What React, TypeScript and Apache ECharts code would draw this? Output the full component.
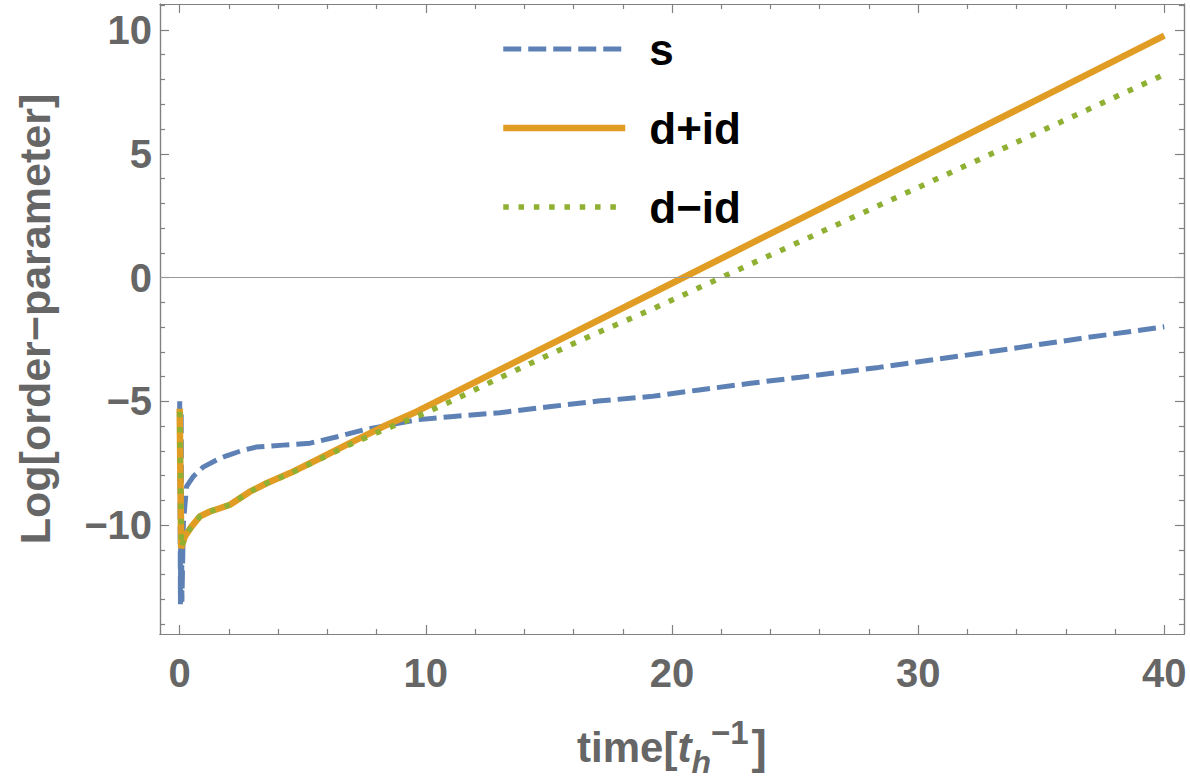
import React, { useEffect, useRef } from "react";
import * as echarts from "echarts";

// ---- data ----
const sTime = [0, 0.03, 0.06, 0.09, 0.15, 0.28, 0.55, 0.95, 1.56, 1.9, 2.5, 3.1, 4.2, 5.3, 6.4, 7.45, 8.5, 9.6, 11, 13, 15, 17, 19.1, 21.1, 23.2, 25.2, 28.4, 32.5, 36.6, 40];
const sLog = [-5.0, -13.2, -5.4, -13.1, -9.9, -8.44, -8.04, -7.66, -7.34, -7.2, -7.0, -6.85, -6.77, -6.69, -6.43, -6.16, -5.96, -5.75, -5.62, -5.46, -5.22, -4.99, -4.81, -4.54, -4.27, -4.03, -3.63, -3.06, -2.46, -1.99];

const dPlusTime = [0, 0.06, 0.21, 0.48, 0.82, 1.23, 1.63, 2.04, 2.85, 3.53, 4.48, 5.56, 6.91, 8.27, 9.62, 15, 20, 25, 30, 35, 40];
const dPlusLog = [-5.3, -10.93, -10.46, -10.06, -9.65, -9.45, -9.32, -9.18, -8.65, -8.31, -7.9, -7.37, -6.69, -6.02, -5.42, -2.73, -0.23, 2.27, 4.77, 7.27, 9.77];

const dMinusTime = [0, 0.07, 0.21, 0.48, 0.82, 1.23, 1.63, 2.04, 2.85, 3.53, 4.48, 5.56, 6.91, 8.27, 9.62, 10.98, 13, 15, 17, 19.1, 22, 25, 30, 35, 40];
const dMinusLog = [-5.42, -10.9, -10.46, -10.06, -9.65, -9.45, -9.32, -9.18, -8.65, -8.31, -7.92, -7.4, -6.75, -6.16, -5.62, -5.02, -4.05, -3.12, -2.22, -1.32, 0.0, 1.36, 3.64, 5.92, 8.2];

const seriesNames = ["s", "d+id", "d\u2212id"];
const seriesColors = ["#5E81B5", "#E19C24", "#8FB032"];
const seriesWidths = [5, 6.5, 5.5];
const xMajorTicks = [0, 10, 20, 30, 40];
const xMinorTicks = [2, 4, 6, 8, 12, 14, 16, 18, 22, 24, 26, 28, 32, 34, 36, 38];
const yMajorTicks = [-10, -5, 0, 5, 10];
const yMinorTicks = [-14, -13, -12, -11, -9, -8, -7, -6, -4, -3, -2, -1, 1, 2, 3, 4, 6, 7, 8, 9, 11];

const X_MIN = -0.8;
const X_MAX = 40.8;
const Y_MIN = -14.4;
const Y_MAX = 11.05;

const FONT = "'Liberation Sans', Arial, Helvetica, sans-serif";
const FRAME = "#808080";
const LABEL = "#666666";

const zip = (xs: number[], ys: number[]) => xs.map((x, i) => [x, ys[i]]);
const fmt = (v: number) => (v < 0 ? "\u2212" + Math.abs(v) : String(v));

export default function App() {
  const ref = useRef<HTMLDivElement>(null);
  useEffect(() => {
    if (!ref.current) return;
    const chart = echarts.init(ref.current, null, { renderer: "svg" });

    const frameAxis = (pos: string, ticks: number[], len: number, labels: boolean, extra: any = {}) => ({
      type: "value",
      position: pos,
      min: pos === "left" || pos === "right" ? Y_MIN : X_MIN,
      max: pos === "left" || pos === "right" ? Y_MAX : X_MAX,
      axisLine: { show: true, onZero: false, lineStyle: { color: FRAME, width: 1.2 } },
      axisTick: { show: true, inside: true, length: len, customValues: ticks, lineStyle: { color: FRAME, width: 1.2 } },
      axisLabel: labels
        ? {
            show: true,
            customValues: ticks,
            formatter: fmt,
            fontSize: 40,
            fontWeight: "bold",
            fontFamily: FONT,
            color: LABEL,
            margin: pos === "bottom" ? 19 : 8,
          }
        : { show: false },
      splitLine: { show: false },
      ...extra,
    });

    chart.setOption({
      animation: false,
      backgroundColor: "#ffffff",
      grid: { left: 160, right: 6, top: 4, bottom: 150, containLabel: false },
      legend: {
        orient: "vertical",
        left: 500,
        top: 27,
        padding: 0,
        itemWidth: 122,
        itemHeight: 14,
        itemGap: 35,
        data: seriesNames.map((n, i) => ({
          name: n,
          itemStyle: { opacity: 0 },
          lineStyle: { width: seriesWidths[i], color: seriesColors[i] },
        })),
        textStyle: {
          fontSize: 44,
          fontWeight: "bold",
          fontFamily: FONT,
          color: "#000000",
          lineHeight: 40,
          padding: [0, 0, 0, 19],
        },
      },
      xAxis: [
        frameAxis("bottom", xMajorTicks, 9, true, {
          name: "{a|time[}{i|t}{sub|h}{sup|\u22121}{b|]}",
          nameLocation: "middle",
          nameGap: 82,
          nameTextStyle: {
            rich: {
              a: { fontSize: 42, fontWeight: "bold", fontFamily: FONT, color: LABEL, lineHeight: 62 },
              b: { fontSize: 46, fontWeight: "bold", fontFamily: FONT, color: LABEL, lineHeight: 62, padding: [0, 0, 0, 3] },
              i: { fontSize: 42, fontWeight: "bold", fontStyle: "italic", fontFamily: FONT, color: LABEL, lineHeight: 62 },
              sub: { fontSize: 32, fontWeight: "bold", fontStyle: "italic", fontFamily: FONT, color: LABEL, lineHeight: 30, verticalAlign: "bottom" },
              sup: { fontSize: 33, fontWeight: "bold", fontFamily: FONT, color: LABEL, lineHeight: 30, verticalAlign: "top" },
            },
          },
        }),
        frameAxis("bottom", xMinorTicks, 5, false),
        frameAxis("top", xMajorTicks, 9, false),
        frameAxis("top", xMinorTicks, 5, false),
      ],
      yAxis: [
        frameAxis("left", yMajorTicks, 9, true, {
          name: "Log[order\u2212parameter]",
          nameLocation: "middle",
          nameRotate: 90,
          nameGap: 104,
          nameTextStyle: { fontSize: 43, fontWeight: "bold", fontFamily: FONT, color: LABEL },
        }),
        frameAxis("left", yMinorTicks, 5, false),
        frameAxis("right", yMajorTicks, 9, false),
        frameAxis("right", yMinorTicks, 5, false),
      ],
      series: [
        {
          name: seriesNames[0],
          type: "line",
          data: zip(sTime, sLog),
          symbol: "none",
          lineStyle: { color: seriesColors[0], width: seriesWidths[0], type: [18, 7], cap: "butt" },
          itemStyle: { color: seriesColors[0] },
          markLine: {
            silent: true,
            symbol: "none",
            label: { show: false },
            lineStyle: { color: "#999999", width: 1, type: "solid" },
            data: [{ yAxis: 0 }],
          },
        },
        {
          name: seriesNames[1],
          type: "line",
          data: zip(dPlusTime, dPlusLog),
          symbol: "none",
          lineStyle: { color: seriesColors[1], width: seriesWidths[1], type: "solid" },
          itemStyle: { color: seriesColors[1] },
        },
        {
          name: seriesNames[2],
          type: "line",
          data: zip(dMinusTime, dMinusLog),
          symbol: "none",
          lineStyle: { color: seriesColors[2], width: seriesWidths[2], type: [5.5, 9.8], cap: "butt" },
          itemStyle: { color: seriesColors[2] },
        },
      ],
    });
    return () => chart.dispose();
  }, []);
  return <div ref={ref} style={{ position: "fixed", left: 0, top: 0, width: 1190, height: 784 }} />;
}
